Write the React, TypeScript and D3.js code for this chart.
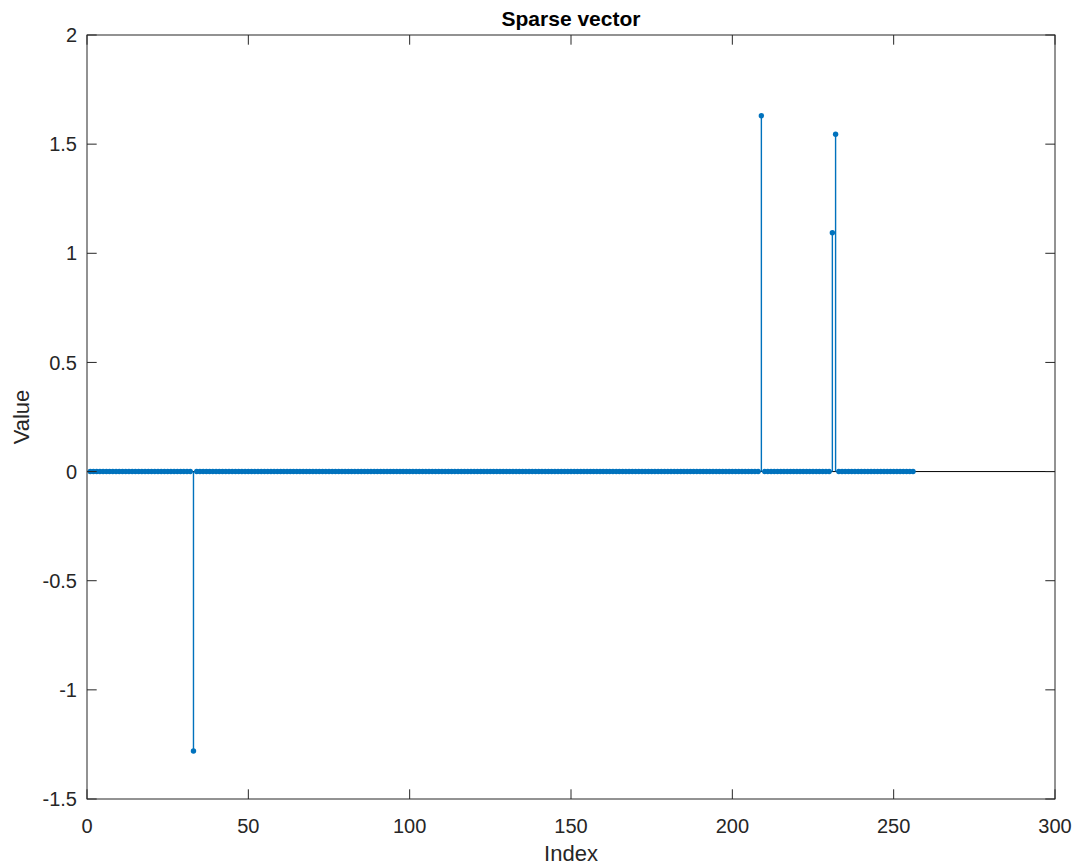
import React from "react";
import * as d3 from "d3";

// Sparse vector of length 256: only a few entries are nonzero.
const vectorLength = 256;
const nonzeroIndices = [33, 209, 231, 232];
const nonzeroValues = [-1.28, 1.63, 1.094, 1.545];

const xTicks = [0, 50, 100, 150, 200, 250, 300];
const yTicks = [-1.5, -1, -0.5, 0, 0.5, 1, 1.5, 2];

const W = 1073;
const H = 865;
const margin = { left: 87, right: 1055, top: 35, bottom: 799 };

const stemColor = "#0072BD";
const axisColor = "#262626";
const font = "Liberation Sans, Arial, Helvetica, sans-serif";

export default function App() {
  const x = d3.scaleLinear().domain([0, 300]).range([margin.left, margin.right]);
  const y = d3.scaleLinear().domain([-1.5, 2]).range([margin.bottom, margin.top]);

  const valueAt = new Map<number, number>();
  nonzeroIndices.forEach((idx, i) => valueAt.set(idx, nonzeroValues[i]));
  const points = d3.range(1, vectorLength + 1).map((i) => ({ i, v: valueAt.get(i) ?? 0 }));

  const tickLen = 9.7;
  const y0 = y(0);

  return (
    <svg width={W} height={H} style={{ position: "absolute", left: 0, top: 0, background: "#fff" }}>
      <rect x={0} y={0} width={W} height={H} fill="#fff" />
      {/* baseline */}
      <line x1={margin.left} x2={margin.right} y1={y0} y2={y0} stroke="#000" strokeWidth={1} />
      {/* stems */}
      {points.filter((p) => p.v !== 0).map((p) => (
        <line key={"s" + p.i} x1={x(p.i)} x2={x(p.i)} y1={y0} y2={y(p.v)} stroke={stemColor} strokeWidth={1.4} />
      ))}
      {/* markers */}
      {points.map((p) => (
        <circle key={"m" + p.i} cx={x(p.i)} cy={y(p.v)} r={2.7} fill={stemColor} />
      ))}
      {/* box */}
      <rect x={margin.left} y={margin.top} width={margin.right - margin.left} height={margin.bottom - margin.top}
        fill="none" stroke={axisColor} strokeWidth={1} />
      {/* x ticks */}
      {xTicks.map((t) => (
        <g key={"xt" + t}>
          <line x1={x(t)} x2={x(t)} y1={margin.bottom} y2={margin.bottom - tickLen} stroke={axisColor} />
          <line x1={x(t)} x2={x(t)} y1={margin.top} y2={margin.top + tickLen} stroke={axisColor} />
          <text x={x(t)} y={margin.bottom + 34} textAnchor="middle" fontFamily={font} fontSize={20} fill={axisColor}>
            {t}
          </text>
        </g>
      ))}
      {/* y ticks */}
      {yTicks.map((t) => (
        <g key={"yt" + t}>
          <line x1={margin.left} x2={margin.left + tickLen} y1={y(t)} y2={y(t)} stroke={axisColor} />
          <line x1={margin.right} x2={margin.right - tickLen} y1={y(t)} y2={y(t)} stroke={axisColor} />
          <text x={margin.left - 10} y={y(t)} dy="0.36em" textAnchor="end" fontFamily={font} fontSize={20} fill={axisColor}>
            {t}
          </text>
        </g>
      ))}
      {/* labels */}
      <text x={(margin.left + margin.right) / 2} y={861} textAnchor="middle" fontFamily={font} fontSize={22} fill={axisColor}>
        Index
      </text>
      <text transform={`translate(29, ${(margin.top + margin.bottom) / 2}) rotate(-90)`} textAnchor="middle"
        fontFamily={font} fontSize={22} fill={axisColor}>
        Value
      </text>
      <text x={(margin.left + margin.right) / 2} y={26} textAnchor="middle" fontFamily={font} fontSize={21}
        fontWeight="bold" fill="#000">
        Sparse vector
      </text>
    </svg>
  );
}
